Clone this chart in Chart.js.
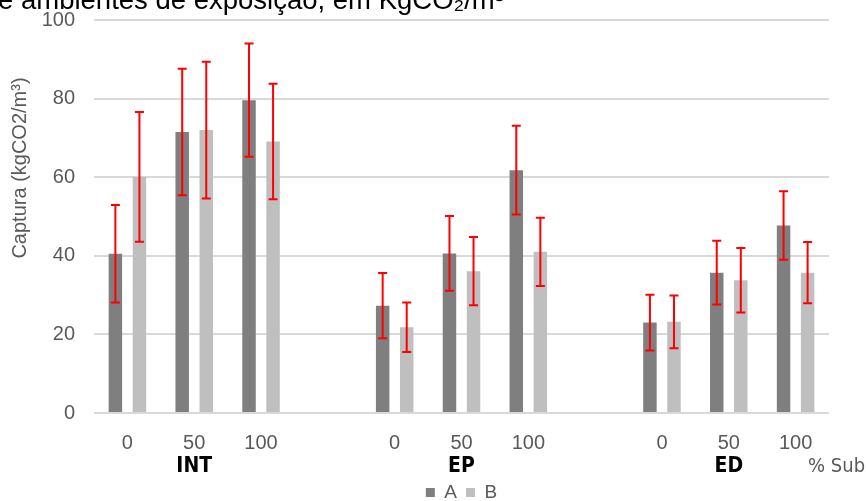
<!DOCTYPE html>
<html>
<head>
<meta charset="utf-8">
<script src="https://cdn.jsdelivr.net/npm/chart.js@4"></script>
<style>
  body { margin: 0; background: #fff; }
  canvas { display: block; }
</style>
</head>
<body>
<canvas id="captura" width="866" height="501"></canvas>
<script>
// % de substituição por ambiente (coluna vazia separa os grupos)
const categories = ['0', '50', '100', '', '0', '50', '100', '', '0', '50', '100'];
const groups = ['INT', 'EP', 'ED'];
const groupIndex = [1, 5, 9];

const seriesA = [40.5, 71.5, 79.6, null, 27.3, 40.6, 61.8, null, 23.0, 35.7, 47.7];
const seriesB = [60.1, 72.0, 69.1, null, 21.8, 36.1, 41.0, null, 23.2, 33.8, 35.7];
const errorsA = [12.4, 16.1, 14.4, null, 8.3, 9.5, 11.3, null, 7.1, 8.1, 8.7];
const errorsB = [16.5, 17.4, 14.7, null, 6.3, 8.7, 8.7, null, 6.7, 8.2, 7.8];

const yTicks = [0, 20, 40, 60, 80, 100];
const chartTitle = 'e ambientes de exposição, em KgCO₂/m³';
const yTitle = 'Captura (kgCO2/m³)';
const xUnit = '% Sub';

const gray = '#595959';

// barras de erro vermelhas (média ± desvio)
const errorBars = {
    id: 'errorBars',
    afterDatasetsDraw(chart) {
        const ctx = chart.ctx;
        const y = chart.scales.y;
        ctx.save();
        ctx.strokeStyle = '#ff0000';
        ctx.lineWidth = 2;
        chart.data.datasets.forEach((ds, i) => {
            chart.getDatasetMeta(i).data.forEach((bar, j) => {
                const v = ds.data[j], e = ds.errors[j];
                if (v == null || e == null) return;
                const top = y.getPixelForValue(v + e);
                const bot = y.getPixelForValue(v - e);
                ctx.beginPath();
                ctx.moveTo(bar.x, top); ctx.lineTo(bar.x, bot);
                ctx.moveTo(bar.x - 4.5, top); ctx.lineTo(bar.x + 4.5, top);
                ctx.moveTo(bar.x - 4.5, bot); ctx.lineTo(bar.x + 4.5, bot);
                ctx.stroke();
            });
        });
        ctx.restore();
    }
};

// textos fora dos eixos: título, título do eixo y, grupos e unidade
const extraText = {
    id: 'extraText',
    afterDraw(chart) {
        const ctx = chart.ctx;
        const x = chart.scales.x;
        ctx.save();

        ctx.fillStyle = '#000';
        ctx.font = '27.5px "Liberation Sans", Arial, sans-serif';
        ctx.textAlign = 'left';
        ctx.textBaseline = 'alphabetic';
        ctx.fillText(chartTitle, -2, 9);

        ctx.save();
        ctx.translate(20, 168);
        ctx.rotate(-Math.PI / 2);
        ctx.fillStyle = gray;
        ctx.font = '20px "Liberation Sans", Arial, sans-serif';
        ctx.textAlign = 'center';
        ctx.textBaseline = 'middle';
        ctx.fillText(yTitle, 0, 0);
        ctx.restore();

        ctx.fillStyle = '#000';
        ctx.font = 'bold 21px "Liberation Sans Narrow", "DejaVu Sans Condensed", sans-serif';
        ctx.textAlign = 'center';
        ctx.textBaseline = 'middle';
        groups.forEach((g, k) => {
            ctx.fillText(g, x.getPixelForValue(groupIndex[k]), 467);
        });

        ctx.fillStyle = gray;
        ctx.font = '20px "Liberation Sans Narrow", "DejaVu Sans Condensed", sans-serif';
        ctx.textAlign = 'left';
        ctx.fillText(xUnit, 808, 467);

        ctx.restore();
    }
};

const config = {
    type: 'bar',
    data: {
        labels: categories,
        datasets: [
            {
                label: 'A',
                data: seriesA,
                errors: errorsA,
                backgroundColor: '#7f7f7f',
                categoryPercentage: 0.72,
                barPercentage: 0.56
            },
            {
                label: 'B',
                data: seriesB,
                errors: errorsB,
                backgroundColor: '#bfbfbf',
                categoryPercentage: 0.72,
                barPercentage: 0.56
            }
        ]
    },
    options: {
        responsive: false,
        animation: false,
        devicePixelRatio: 1,
        layout: {
            padding: { top: 0, right: 37, bottom: 0, left: 0 }
        },
        scales: {
            x: {
                grid: { display: false, drawTicks: false },
                border: { display: false },
                ticks: {
                    color: gray,
                    font: { family: '"Liberation Sans", Arial, sans-serif', size: 20 },
                    padding: 18,
                    autoSkip: false,
                    maxRotation: 0
                },
                afterFit(scale) { scale.height = 61; }
            },
            y: {
                min: 0,
                max: 100,
                grid: { color: '#d9d9d9', lineWidth: 2, drawTicks: false },
                border: { display: false },
                afterBuildTicks(scale) { scale.ticks = yTicks.map(v => ({ value: v })); },
                ticks: {
                    color: gray,
                    font: { family: '"Liberation Sans", Arial, sans-serif', size: 20 },
                    padding: 19
                },
                afterFit(scale) {
                    scale.width = 94;
                    scale.paddingTop = 20;
                }
            }
        },
        plugins: {
            title: { display: false },
            tooltip: { enabled: false },
            legend: {
                position: 'bottom',
                fullSize: false,
                maxHeight: 27,
                labels: {
                    color: gray,
                    font: { family: '"Liberation Sans", Arial, sans-serif', size: 19 },
                    boxWidth: 9,
                    boxHeight: 9,
                    padding: 9
                }
            }
        }
    },
    plugins: [errorBars, extraText]
};

new Chart(document.getElementById('captura').getContext('2d'), config);
</script>
</body>
</html>
